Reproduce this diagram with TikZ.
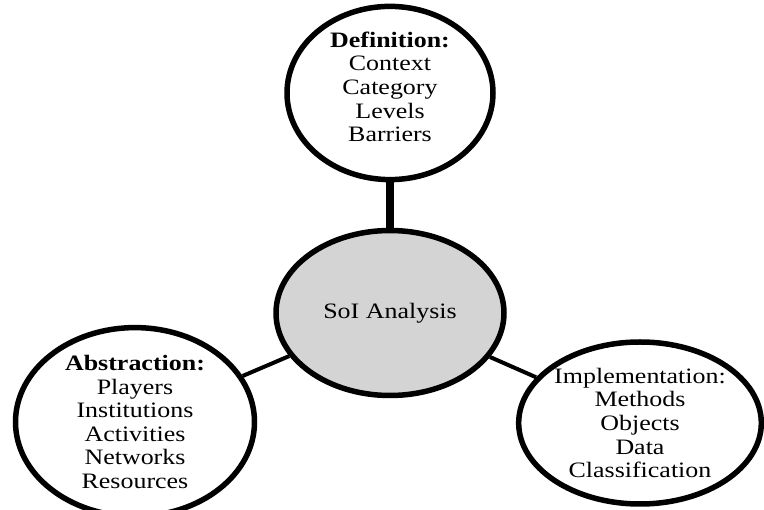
\documentclass[tikz,border=0pt]{standalone}
\usepackage{fontspec}
\setmainfont{Liberation Serif}[FakeStretch=1.18]
\usetikzlibrary{shapes.geometric}
\begin{document}
\begin{tikzpicture}[x=1pt,y=-1pt,
  bubble/.style={ellipse,draw=black,line width=5.5pt,fill=white,inner sep=0pt,
    align=center,font=\fontsize{22}{23.6}\selectfont},
  hub/.style={bubble,fill=black!17},
  thickcon/.style={line width=7.5pt},
  thincon/.style={line width=4pt}]
\useasboundingbox (0,0) rectangle (764,510);
\node[bubble,minimum width=206pt,minimum height=163pt] (def) at (390,93)
  {\textbf{Definition:}\\Context\\Category\\Levels\\Barriers\\[-11pt]\mbox{}};
\node[hub,minimum width=228pt,minimum height=165pt] (soi) at (390,313) {SoI Analysis};
\node[bubble,minimum width=239pt,minimum height=164pt] (abs) at (135,422)
  {\textbf{Abstraction:}\\Players\\Institutions\\Activities\\Networks\\Resources};
\node[bubble,minimum width=235pt,minimum height=162pt] (imp) at (640,423)
  {Implementation:\\Methods\\Objects\\Data\\Classification};
\draw[thickcon] (def) -- (soi);
\draw[thincon] (abs) -- (soi);
\draw[thincon] (soi) -- (imp);
\end{tikzpicture}
\end{document}
